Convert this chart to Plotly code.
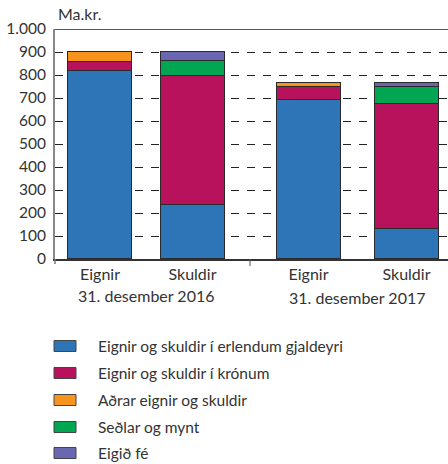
import plotly.graph_objects as go

# ---- data ----
categories = ["Eignir", "Skuldir", "Eignir", "Skuldir"]
groups = ["31. desember 2016", "31. desember 2017"]
series_names = [
    "Eignir og skuldir í erlendum gjaldeyri",
    "Eignir og skuldir í krónum",
    "Aðrar eignir og skuldir",
    "Seðlar og mynt",
    "Eigið fé",
]
foreign_currency = [818, 233, 691, 129]
kronur = [40, 563, 55, 545]
other = [42, 0, 18, 0]
notes_coins = [0, 64, 0, 72]
equity = [0, 40, 0, 18]
y_ticks = [0, 100, 200, 300, 400, 500, 600, 700, 800, 900, 1000]

series_values = [foreign_currency, kronur, other, notes_coins, equity]
colors = ["#2E75B8", "#B8125C", "#F7941D", "#00A651", "#6A67B0"]

# ---- layout geometry (pixels) ----
W, H = 448, 464
L, R, T, B = 55, 0, 29, 205
PW, PH = W - L - R, H - T - B
positions = [45, 137.5, 253.5, 351.5]   # bar centers along x axis (pixel units)
bar_width = 64
FONT = "Lato"
TXT = "#333333"

def xp(px):
    return (px - L) / PW

def yp(py):
    return (H - B - py) / PH

fig = go.Figure()
for name, vals, col in zip(series_names, series_values, colors):
    fig.add_trace(go.Bar(
        x=positions, y=vals, name=name, width=bar_width,
        marker=dict(color=col, line=dict(color="#2a2a2a", width=1)),
        showlegend=False, hoverinfo="y+name",
    ))

shapes = [
    # top border line at 1000
    dict(type="line", xref="paper", yref="y", x0=0, x1=1, y0=1000, y1=1000,
         line=dict(color="#222222", width=1.5)),
    # group separator tick
    dict(type="line", xref="x", yref="paper", x0=195, x1=195, y0=0, y1=yp(266),
         line=dict(color="#555555", width=1)),
    # small tick at axis origin
    dict(type="line", xref="paper", yref="paper", x0=0, x1=0, y0=0, y1=yp(264),
         line=dict(color="#777777", width=1.5)),
]
annotations = [
    dict(text="Ma.kr.", xref="paper", yref="paper", x=xp(56), y=yp(14),
         xanchor="left", yanchor="middle", showarrow=False,
         font=dict(family=FONT, size=16, color=TXT)),
    dict(text=groups[0], xref="x", yref="paper", x=(positions[0] + positions[1]) / 2,
         y=yp(295), xanchor="center", yanchor="middle", showarrow=False,
         font=dict(family=FONT, size=16, color=TXT)),
    dict(text=groups[1], xref="x", yref="paper", x=(positions[2] + positions[3]) / 2,
         y=yp(297), xanchor="center", yanchor="middle", showarrow=False,
         font=dict(family=FONT, size=16, color=TXT)),
]

# custom legend
row_y = [346, 373, 400, 427, 453]
for name, col, ry in zip(series_names, colors, row_y):
    shapes.append(dict(type="rect", xref="paper", yref="paper",
                       x0=xp(54), x1=xp(76), y0=yp(ry + 5.5), y1=yp(ry - 5.5),
                       fillcolor=col, line=dict(color="#444444", width=1)))
    annotations.append(dict(text=name, xref="paper", yref="paper", x=xp(96), y=yp(ry),
                            xanchor="left", yanchor="middle", showarrow=False,
                            font=dict(family=FONT, size=15.5, color=TXT)))

fig.update_layout(
    width=W, height=H,
    margin=dict(l=L, r=R, t=T, b=B, pad=0),
    barmode="stack",
    bargap=0,
    plot_bgcolor="white", paper_bgcolor="white",
    separators=",.",
    font=dict(family=FONT, size=15, color=TXT),
    shapes=shapes, annotations=annotations,
    showlegend=False,
    xaxis=dict(
        range=[0, PW], tickmode="array", tickvals=positions, ticktext=categories,
        ticks="", showgrid=False, zeroline=False,
        showline=True, linecolor="#333333", linewidth=1.5,
        tickfont=dict(family=FONT, size=16, color=TXT), fixedrange=True,
    ),
    yaxis=dict(
        range=[0, 1000], tickmode="array", tickvals=y_ticks, tickformat=",d",
        ticks="", ticklabelstandoff=4,
        showline=True, linecolor="#888888", linewidth=2,
        showgrid=True, gridcolor="#222222", gridwidth=1.4, griddash="8px,8px",
        zeroline=False, tickfont=dict(family=FONT, size=15.5, color=TXT),
        fixedrange=True,
    ),
)

fig.write_html("out.html", config={"displayModeBar": False},
               post_script="document.body.style.margin='0';document.body.style.padding='0';")
